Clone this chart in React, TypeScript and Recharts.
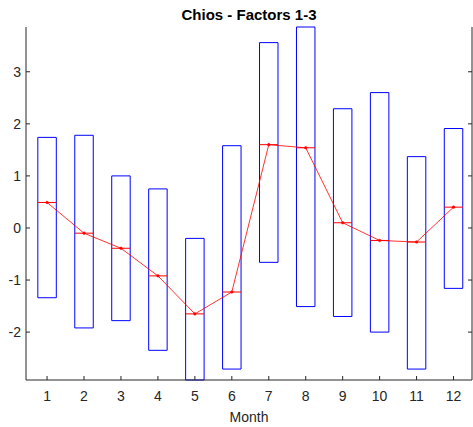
import React from 'react';
import { ComposedChart, Line, XAxis, YAxis, ReferenceArea, ReferenceLine } from 'recharts';

const months = [1, 2, 3, 4, 5, 6, 7, 8, 9, 10, 11, 12];
const boxHigh = [1.74, 1.78, 1.0, 0.75, -0.2, 1.58, 3.56, 3.86, 2.29, 2.6, 1.37, 1.91];
const boxLow = [-1.34, -1.92, -1.78, -2.35, -2.92, -2.71, -0.66, -1.51, -1.7, -2.0, -2.71, -1.16];
const means = [0.49, -0.1, -0.39, -0.92, -1.65, -1.23, 1.6, 1.54, 0.1, -0.24, -0.27, 0.4];
const yTicks = [-2, -1, 0, 1, 2, 3];

const AXIS = '#262626';
const HALF = 0.25;

const data = months.map((m, i) => ({ month: m, mean: means[i], low: boxLow[i], high: boxHigh[i] }));
const yDomain = [Math.min(...boxLow), Math.max(...boxHigh)];

const tickStyle = { fill: AXIS, fontSize: 14, fontFamily: 'Liberation Sans, Arial, sans-serif' };

const App: React.FC = () => {
    return (
        <div style={{ position: 'absolute', left: 0, top: 0, width: 473, height: 427, background: '#fff' }}>
            <div style={{
                position: 'absolute', left: 26, width: 446, top: 6, textAlign: 'center',
                fontFamily: 'Liberation Sans, Arial, sans-serif', fontWeight: 'bold', fontSize: 15, color: '#000',
            }}>
                Chios - Factors 1-3
            </div>
            <ComposedChart width={473} height={427} data={data} margin={{ top: 27, right: 0, left: 0, bottom: 17 }}>
                <XAxis
                    dataKey="month" type="number" domain={[0.43, 12.5]} ticks={months} allowDataOverflow
                    stroke={AXIS} tick={tickStyle} tickSize={-4} tickMargin={15} height={30} interval={0}
                />
                <XAxis
                    xAxisId="t" orientation="top" dataKey="month" type="number" domain={[0.43, 12.5]} ticks={months}
                    allowDataOverflow stroke={AXIS} tickSize={-4} tickFormatter={() => ''} height={0} interval={0}
                />
                <YAxis
                    type="number" domain={yDomain} ticks={yTicks} allowDataOverflow
                    stroke={AXIS} tick={tickStyle} tickSize={-4} tickMargin={9} width={26} interval={0}
                />
                <YAxis
                    yAxisId="r" orientation="right" type="number" domain={yDomain} ticks={yTicks} allowDataOverflow
                    stroke={AXIS} tickSize={-4} tickFormatter={() => ''} width={1} interval={0}
                />
                {data.map(d => (
                    <ReferenceArea
                        key={`box-${d.month}`} x1={d.month - HALF} x2={d.month + HALF} y1={d.low} y2={d.high}
                        stroke="#0000ff" strokeWidth={1} fill="none" fillOpacity={0} strokeOpacity={1} ifOverflow="visible"
                    />
                ))}
                {data.map(d => (
                    <ReferenceLine
                        key={`mean-${d.month}`}
                        segment={[{ x: d.month - HALF, y: d.mean }, { x: d.month + HALF, y: d.mean }]}
                        stroke="#ff0000" strokeWidth={1} ifOverflow="visible"
                    />
                ))}
                <Line
                    dataKey="mean" type="linear" stroke="#ff0000" strokeWidth={0.8}
                    dot={{ r: 1.3, fill: '#ff0000', stroke: '#ff0000', strokeWidth: 0.5 }}
                    isAnimationActive={false}
                />
            </ComposedChart>
            <div style={{
                position: 'absolute', left: 26, width: 446, top: 409, textAlign: 'center',
                fontFamily: 'Liberation Sans, Arial, sans-serif', fontSize: 14, color: AXIS,
            }}>
                Month
            </div>
        </div>
    );
};

export default App;
